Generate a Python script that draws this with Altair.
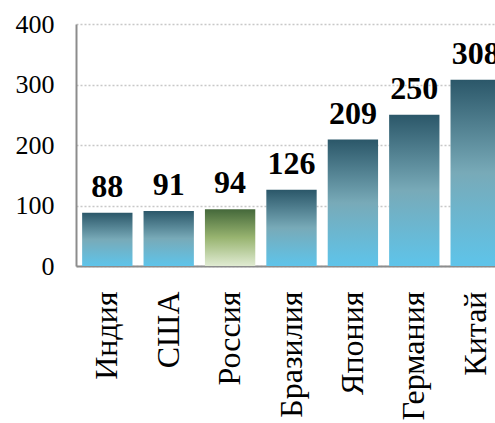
import altair as alt
import pandas as pd

countries = ["Индия", "США", "Россия", "Бразилия", "Япония", "Германия", "Китай"]
values = [88, 91, 94, 126, 209, 250, 308]
highlight = "Россия"

df = pd.DataFrame({"country": countries, "value": values})

FONT = "Liberation Serif, Times New Roman, serif"

blue = alt.Gradient(
    gradient="linear", x1=0, y1=0, x2=0, y2=1,
    stops=[alt.GradientStop(color="#2b5769", offset=0),
           alt.GradientStop(color="#78aab8", offset=0.5),
           alt.GradientStop(color="#5ec4ea", offset=1)],
)
green = alt.Gradient(
    gradient="linear", x1=0, y1=0, x2=0, y2=1,
    stops=[alt.GradientStop(color="#44683a", offset=0),
           alt.GradientStop(color="#98b470", offset=0.5),
           alt.GradientStop(color="#e0ebd2", offset=1)],
)

x = alt.X("country:N", sort=countries, title=None,
          scale=alt.Scale(range=[0, 431], paddingInner=0.18, paddingOuter=0.1),
          axis=alt.Axis(labelAngle=-90, labelFont=FONT, labelFontSize=32,
                        labelColor="black", labelPadding=25, ticks=False,
                        domainColor="#8c8c8c", domainWidth=2, labelLimit=300))
y = alt.Y("value:Q", title=None,
          scale=alt.Scale(domain=[0, 400]),
          axis=alt.Axis(values=[0, 100, 200, 300, 400], labelFont=FONT,
                        labelFontSize=26, labelColor="black", labelPadding=22,
                        ticks=False, domainColor="#8c8c8c", domainWidth=2,
                        grid=True, gridColor="#c8c8c8", gridDash=[2, 2],
                        gridWidth=1.5))

base = alt.Chart(df)
bars_blue = base.transform_filter(alt.datum.country != highlight).mark_bar(
    fill=blue).encode(x=x, y=y)
bars_green = base.transform_filter(alt.datum.country == highlight).mark_bar(
    fill=green).encode(x=x, y=y)
labels = base.mark_text(font=FONT, fontSize=32, fontWeight="bold",
                        baseline="alphabetic", dy=-16, color="black").encode(
    x=x, y=y, text="value:Q")

chart = (bars_blue + bars_green + labels).properties(
    width=419, height=242,
    autosize=alt.AutoSizeParams(type="none"),
    padding={"left": 76, "top": 24, "right": 0, "bottom": 157},
).configure_view(stroke=None)

chart.save("out.html", embed_options={"renderer": "svg", "actions": False})
